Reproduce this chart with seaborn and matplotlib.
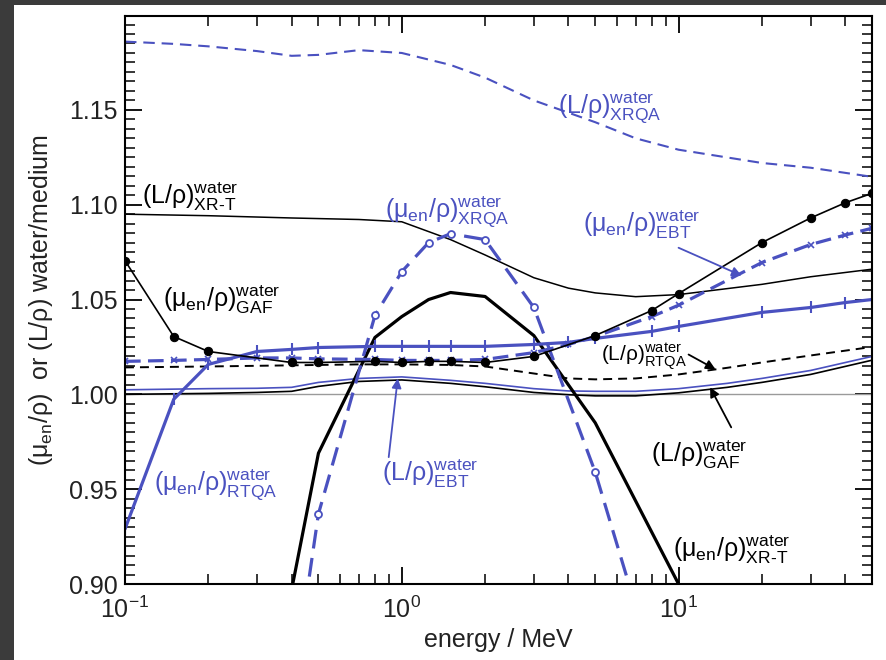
import numpy as np
import pandas as pd
import matplotlib
matplotlib.use('Agg')
import matplotlib.pyplot as plt
from matplotlib.patches import Rectangle
from matplotlib.ticker import LogLocator, NullFormatter, MultipleLocator
import seaborn as sns

BLUE = '#4a51c0'

# (L/rho) XRQA - blue dashed, top
l_xrqa_e = [0.1, 0.15, 0.2, 0.3, 0.4, 0.5, 0.7, 1.0, 1.5, 2, 3, 5, 7, 10, 20, 30, 50]
l_xrqa_v = [1.186, 1.1848, 1.1835, 1.181, 1.1785, 1.179, 1.1815, 1.180, 1.1737, 1.167,
            1.155, 1.1435, 1.135, 1.129, 1.122, 1.1195, 1.1147]

# (L/rho) XR-T - black thin
l_xrt_e = [0.1, 0.2, 0.4, 0.7, 1.0, 1.5, 2, 3, 4, 5, 7, 10, 20, 30, 50]
l_xrt_v = [1.095, 1.0942, 1.093, 1.0922, 1.091, 1.0816, 1.0735, 1.0615, 1.056, 1.0535,
           1.0515, 1.0526, 1.058, 1.062, 1.066]

# (mu_en/rho) GAF - black with filled circles
mu_gaf_e = [0.1, 0.15, 0.2, 0.4, 0.5, 0.8, 1.0, 1.25, 1.5, 2, 3, 5, 8, 10, 20, 30, 40, 50]
mu_gaf_v = [1.0705, 1.0305, 1.0226, 1.0168, 1.0168, 1.0174, 1.0168, 1.0174, 1.0174, 1.0168,
            1.020, 1.031, 1.0442, 1.0531, 1.080, 1.093, 1.101, 1.106]

# (mu_en/rho) EBT - blue thick dashed with small crosses
mu_ebt_e = [0.1, 0.15, 0.2, 0.3, 0.4, 0.5, 0.8, 1.0, 1.25, 1.5, 2, 3, 4, 5, 8, 10, 20, 30, 40, 50]
mu_ebt_v = [1.0174, 1.0179, 1.0184, 1.0192, 1.0192, 1.0187, 1.0184, 1.0179, 1.0179, 1.0179,
            1.0184, 1.022, 1.0263, 1.0305, 1.041, 1.047, 1.0695, 1.079, 1.084, 1.0876]

# (mu_en/rho) RTQA - blue thick solid with tick marks
mu_rtqa_e = [0.1, 0.15, 0.2, 0.3, 0.4, 0.5, 0.8, 1.0, 1.25, 1.5, 2, 3, 4, 5, 8, 10, 20, 30, 40, 50]
mu_rtqa_v = [0.929, 0.9974, 1.0158, 1.0226, 1.0237, 1.0247, 1.0253, 1.0253, 1.0253, 1.0253,
             1.0253, 1.0263, 1.0274, 1.0295, 1.0332, 1.0358, 1.0432, 1.0458, 1.0484, 1.050]

# (L/rho) RTQA - black dashed
l_rtqa_e = [0.1, 0.2, 0.4, 0.7, 1.0, 1.5, 2, 3, 4, 5, 7, 10, 15, 20, 30, 50]
l_rtqa_v = [1.0142, 1.0147, 1.0153, 1.0158, 1.0158, 1.0155, 1.0147, 1.0110, 1.0084, 1.0079,
            1.0084, 1.0105, 1.014, 1.0168, 1.0205, 1.025]

# (L/rho) EBT (blue thin) and GAF (black thin)
l_thin_e = [0.1, 0.2, 0.3, 0.4, 0.5, 0.7, 1.0, 1.5, 2, 3, 4, 5, 7, 10, 15, 20, 30, 50]
l_ebt_v = [1.0024, 1.003, 1.0032, 1.0037, 1.0063, 1.0084, 1.0092, 1.0074, 1.0058, 1.0030,
           1.0018, 1.0016, 1.0016, 1.0030, 1.0058, 1.0084, 1.0126, 1.0200]
l_gaf_v = [1.0000, 1.0005, 1.0010, 1.0016, 1.0042, 1.0068, 1.0076, 1.0058, 1.0040, 1.0010,
           0.9998, 0.9992, 0.9992, 1.0008, 1.0037, 1.0063, 1.0105, 1.0180]

# (mu_en/rho) XRQA - blue dashed with open circles (markers at 0.5 .. 5 MeV)
mu_xrqa_e = [0.4, 0.5, 0.8, 1.0, 1.25, 1.5, 2, 3, 5, 8]
mu_xrqa_v = [0.84, 0.937, 1.0416, 1.0647, 1.080, 1.0847, 1.0816, 1.0458, 0.959, 0.86]

# (mu_en/rho) XR-T - black thick
mu_xrt_e = [0.4, 0.5, 0.8, 1.0, 1.25, 1.5, 2, 3, 4, 5, 10]
mu_xrt_v = [0.897, 0.969, 1.030, 1.041, 1.050, 1.0537, 1.0516, 1.031, 1.005, 0.985, 0.900]

yticks = [0.90, 0.95, 1.00, 1.05, 1.10, 1.15]

sns.set_style('ticks')
plt.rcParams['font.family'] = ['Liberation Sans', 'DejaVu Sans']
plt.rcParams['mathtext.fontset'] = 'custom'
plt.rcParams['mathtext.rm'] = 'Liberation Sans'
plt.rcParams['mathtext.it'] = 'Liberation Sans'
plt.rcParams['mathtext.sf'] = 'Liberation Sans'
plt.rcParams['mathtext.bf'] = 'Liberation Sans:bold'

fig = plt.figure(figsize=(8.87, 6.6), dpi=100)
fig.patch.set_facecolor('#3b3b3b')
fig.add_artist(Rectangle((14 / 887, 0), 1 - 14 / 887, 655 / 660, transform=fig.transFigure,
                         facecolor='white', edgecolor='none', zorder=-5))
ax = fig.add_axes([125 / 887, 76 / 660, 747 / 887, 568 / 660])
ax.set_xscale('log')

ax.axhline(1.0, color='#9a9a9a', lw=1.0, zorder=1)


def line(e, v, **kw):
    df = pd.DataFrame({'energy': e, 'ratio': v})
    sns.lineplot(data=df, x='energy', y='ratio', ax=ax, estimator=None, sort=False, **kw)


line(l_xrqa_e, l_xrqa_v, color=BLUE, lw=1.5, linestyle=(0, (5.5, 3.3)))
line(l_xrt_e, l_xrt_v, color='black', lw=1.1)
line(l_thin_e, l_gaf_v, color='black', lw=1.2)
line(l_thin_e, l_ebt_v, color=BLUE, lw=1.2)
line(l_rtqa_e, l_rtqa_v, color='black', lw=1.4, linestyle=(0, (4.6, 3.1)))
line(mu_xrt_e, mu_xrt_v, color='black', lw=2.3)
line(mu_xrqa_e, mu_xrqa_v, color=BLUE, lw=2.3, linestyle=(0, (5.9, 3.0)),
     marker='o', markersize=5, markerfacecolor='white', markeredgecolor=BLUE,
     markeredgewidth=1.3, markevery=list(range(1, 9)))
line(mu_rtqa_e, mu_rtqa_v, color=BLUE, lw=2.3, marker='|', markersize=9,
     markeredgewidth=1.5, markeredgecolor=BLUE)
line(mu_ebt_e, mu_ebt_v, color=BLUE, lw=2.3, linestyle=(0, (4.9, 2.3)),
     marker='x', markersize=4, markeredgewidth=1.2, markeredgecolor=BLUE)
line(mu_gaf_e, mu_gaf_v, color='black', lw=1.2, marker='o', markersize=6,
     markeredgecolor='black', markerfacecolor='black')

ax.set_xlim(0.1, 50)
ax.set_ylim(0.9, 1.1995)
ax.set_yticks(yticks)
ax.set_yticklabels([f'{t:.2f}' for t in yticks])
ax.yaxis.set_minor_locator(MultipleLocator(0.005))
ax.xaxis.set_major_locator(LogLocator(base=10, numticks=10))
ax.xaxis.set_minor_locator(LogLocator(base=10, subs=np.arange(2, 10), numticks=20))
ax.xaxis.set_minor_formatter(NullFormatter())

ax.tick_params(which='both', direction='in', top=True, right=True, colors='black',
               labelsize=18, labelcolor='#222222')
ax.tick_params(which='major', length=12, width=1.3)
ax.tick_params(which='minor', length=7, width=1.1)
ax.tick_params(axis='x', which='major', pad=9)
ax.tick_params(axis='y', which='major', pad=5)
for s in ax.spines.values():
    s.set_linewidth(1.5)
    s.set_color('black')

ax.set_xlabel('energy / MeV', fontsize=18, color='#222222', labelpad=4)
ax.set_ylabel('(μ$_{\\text{en}}$/ρ)  or (L/ρ) water/medium', fontsize=18,
              color='#222222', labelpad=10)

def lab(x, y, s, color, size=18):
    ax.text(x, y, s, color=color, fontsize=size, ha='left', va='baseline', zorder=6)

W = '$)^{\\text{water}}_{\\text{%s}}$'
lab(3.67, 1.148, '(L/ρ' + W % 'XRQA', BLUE)
lab(0.1155, 1.1005, '(L/ρ' + W % 'XR-T', 'black')
lab(0.137, 1.0463, '(μ$_{\\text{en}}$/ρ' + W % 'GAF', 'black')
lab(0.868, 1.0931, '(μ$_{\\text{en}}$/ρ' + W % 'XRQA', BLUE)
lab(4.52, 1.0857, '(μ$_{\\text{en}}$/ρ' + W % 'EBT', BLUE)
lab(5.26, 1.0174, '(L/ρ' + W % 'RTQA', 'black', size=15)
lab(7.98, 0.9642, '(L/ρ' + W % 'GAF', 'black')
lab(9.51, 0.9142, '(μ$_{\\text{en}}$/ρ' + W % 'XR-T', 'black')
lab(0.846, 0.9542, '(L/ρ' + W % 'EBT', BLUE)
lab(0.127, 0.949, '(μ$_{\\text{en}}$/ρ' + W % 'RTQA', BLUE)

def arrow(x0, y0, x1, y1, color):
    ax.annotate('', xy=(x1, y1), xytext=(x0, y0),
                arrowprops=dict(arrowstyle='-|>', color=color, lw=1.3,
                                mutation_scale=14, shrinkA=0, shrinkB=0))

arrow(10.0, 1.0773, 16.9, 1.0626, BLUE)
arrow(0.897, 0.9669, 0.967, 1.0084, BLUE)
arrow(10.87, 1.021, 13.6, 1.0132, 'black')
arrow(15.5, 0.9826, 13.0, 1.0037, 'black')

fig.savefig('out.png', dpi=100, facecolor=fig.get_facecolor())
